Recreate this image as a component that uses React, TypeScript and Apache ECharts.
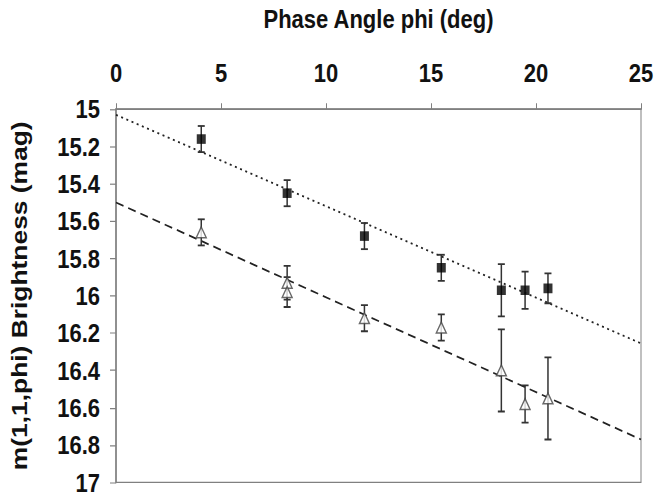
import React, { useEffect, useRef } from "react";
import * as echarts from "echarts";

const squareX = [4.06, 8.15, 11.83, 15.49, 18.35, 19.48, 20.57];
const squareY = [15.16, 15.45, 15.68, 15.85, 15.97, 15.97, 15.96];
const squareErr = [0.07, 0.07, 0.07, 0.07, 0.14, 0.1, 0.08];

const triX = [4.06, 8.15, 8.15, 11.83, 15.49, 18.35, 19.48, 20.57];
const triY = [15.66, 15.93, 15.98, 16.12, 16.17, 16.4, 16.58, 16.55];
const triErr = [0.07, 0.09, 0.08, 0.07, 0.07, 0.22, 0.1, 0.22];

const fitSquareLine = [
  [0, 15.03],
  [25, 16.255],
];
const fitTriLine = [
  [0, 15.5],
  [25, 16.77],
];

const xTitle = "Phase Angle phi (deg)";
const yTitle = "m(1,1,phi) Brightness (mag)";

const FONT = "'Liberation Sans', Arial, sans-serif";
const STRETCH = 1.2;
const W = 666;
const H = 496 / STRETCH;

export default function App() {
  const ref = useRef<HTMLDivElement>(null);
  useEffect(() => {
    if (!ref.current) return;
    const chart = echarts.init(ref.current, null, { renderer: "svg" });
    const errData = [
      ...squareX.map((x, i) => [x, squareY[i] - squareErr[i], squareY[i] + squareErr[i]]),
      ...triX.map((x, i) => [x, triY[i] - triErr[i], triY[i] + triErr[i]]),
    ];
    chart.setOption({
      animation: false,
      backgroundColor: "#ffffff",
      grid: {
        left: 111,
        top: 99 / STRETCH,
        width: 530,
        height: 388 / STRETCH,
        show: true,
        borderColor: "#808080",
        borderWidth: 1,
        backgroundColor: "#ffffff",
      },
      xAxis: {
        type: "value",
        position: "top",
        min: 0,
        max: 25,
        interval: 5,
        name: xTitle,
        nameLocation: "middle",
        nameGap: 64,
        nameTextStyle: { fontFamily: FONT, fontWeight: "bold", fontSize: 22, color: "#111" },
        axisLine: { show: true, lineStyle: { color: "#808080", width: 1.5 } },
        axisTick: { show: true, inside: false, length: 5, lineStyle: { color: "#808080" } },
        axisLabel: { fontFamily: FONT, fontWeight: "bold", fontSize: 22, color: "#111", margin: 19 },
        splitLine: { show: false },
      },
      yAxis: {
        type: "value",
        inverse: true,
        min: 15,
        max: 17,
        interval: 0.2,
        name: yTitle,
        nameLocation: "middle",
        nameGap: 86,
        nameTextStyle: { fontFamily: FONT, fontWeight: "bold", fontSize: 22, color: "#111" },
        axisLine: { show: true, lineStyle: { color: "#808080", width: 1.5 } },
        axisTick: { show: true, inside: false, length: 6, lineStyle: { color: "#808080" } },
        axisLabel: { fontFamily: FONT, fontWeight: "bold", fontSize: 22, color: "#111", margin: 16 },
        splitLine: { show: false },
      },
      series: [
        {
          type: "line",
          data: fitSquareLine,
          showSymbol: false,
          lineStyle: { color: "#222", width: 1.5, type: [2, 3.5] },
          z: 1,
        },
        {
          type: "line",
          data: fitTriLine,
          showSymbol: false,
          lineStyle: { color: "#222", width: 1.5, type: [8, 5] },
          z: 1,
        },
        {
          type: "custom",
          data: errData,
          z: 2,
          renderItem: (params: any, api: any) => {
            const x = api.value(0);
            const lo = api.coord([x, api.value(1)]);
            const hi = api.coord([x, api.value(2)]);
            const hw = 3.5;
            const st = { stroke: "#333", lineWidth: 1.5 };
            return {
              type: "group",
              children: [
                { type: "line", shape: { x1: lo[0], y1: lo[1], x2: hi[0], y2: hi[1] }, style: st },
                { type: "line", shape: { x1: lo[0] - hw, y1: lo[1], x2: lo[0] + hw, y2: lo[1] }, style: st },
                { type: "line", shape: { x1: hi[0] - hw, y1: hi[1], x2: hi[0] + hw, y2: hi[1] }, style: st },
              ],
            };
          },
        },
        {
          type: "scatter",
          data: squareX.map((x, i) => [x, squareY[i]]),
          symbol: "rect",
          symbolSize: [9, 8],
          itemStyle: { color: "#000" },
          z: 3,
        },
        {
          type: "scatter",
          data: triX.map((x, i) => [x, triY[i]]),
          symbol: "triangle",
          symbolSize: [10, 9],
          itemStyle: { color: "#fff", borderColor: "#444", borderWidth: 1.3 },
          z: 3,
        },
      ],
    });
    return () => chart.dispose();
  }, []);
  return (
    <div style={{ position: "absolute", left: 0, top: 0, width: 666, height: 496, overflow: "hidden", background: "#fff" }}>
      <div
        ref={ref}
        style={{ width: W, height: H, transform: `scaleY(${STRETCH})`, transformOrigin: "0 0" }}
      />
    </div>
  );
}
